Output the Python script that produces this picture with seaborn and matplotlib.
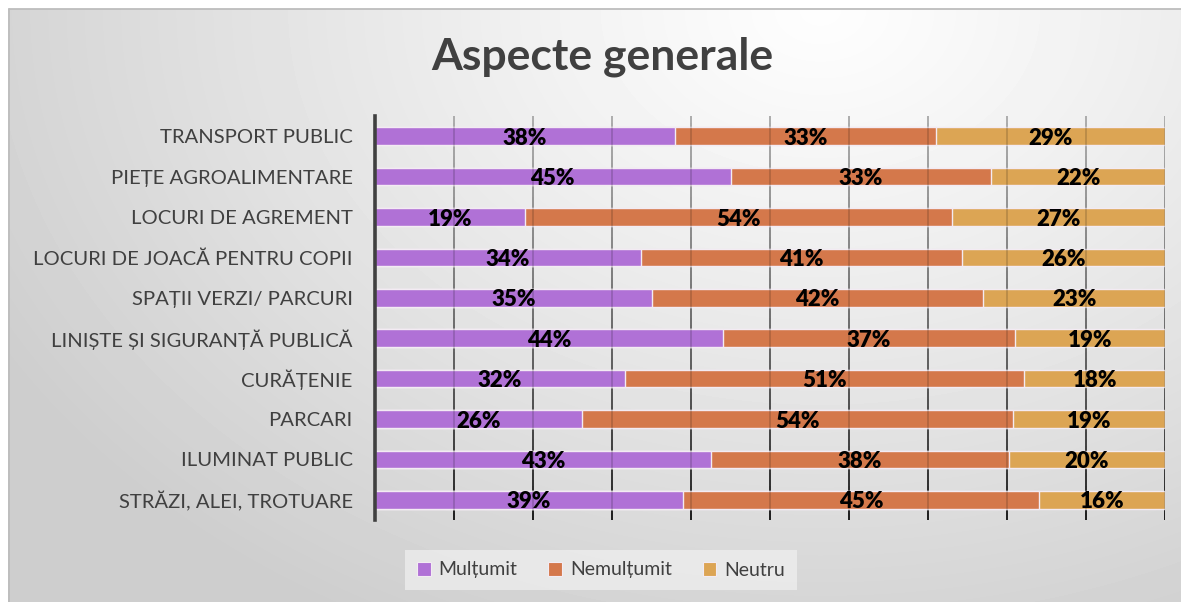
import numpy as np
import pandas as pd
import matplotlib
matplotlib.use("Agg")
import matplotlib.pyplot as plt
import seaborn as sns
from matplotlib.collections import LineCollection
from matplotlib.patches import Patch
from matplotlib.lines import Line2D
from matplotlib.colors import to_rgb

# ---- data -------------------------------------------------------------
categories = [
    "TRANSPORT PUBLIC",
    "PIEȚE AGROALIMENTARE",
    "LOCURI DE AGREMENT",
    "LOCURI DE JOACĂ PENTRU COPII",
    "SPAȚII VERZI/ PARCURI",
    "LINIȘTE ȘI SIGURANȚĂ PUBLICĂ",
    "CURĂȚENIE",
    "PARCARI",
    "ILUMINAT PUBLIC",
    "STRĂZI, ALEI, TROTUARE",
]
multumit = [38, 45, 19, 34, 35, 44, 32, 26, 43, 39]
nemultumit = [33, 33, 54, 41, 42, 37, 51, 54, 38, 45]
neutru = [29, 22, 27, 26, 23, 19, 18, 19, 20, 16]
series_names = ["Mulțumit", "Nemulțumit", "Neutru"]
title = "Aspecte generale"

colors = ["#b071d6", "#d4784b", "#dca554"]
text_gray = "#404040"

sns.set_theme(style="white")
plt.rcParams["font.family"] = ["Lato", "DejaVu Sans"]

df = pd.DataFrame({"cat": categories,
                   series_names[0]: multumit,
                   series_names[1]: nemultumit,
                   series_names[2]: neutru})
# 100% stacked: each row is normalised to its own total
shares = df[series_names].div(df[series_names].sum(axis=1), axis=0) * 100
cum = shares.cumsum(axis=1)

W, H = 1181, 602
fig = plt.figure(figsize=(W / 100, H / 100), dpi=100)

# ---- soft grey background with a thin frame ----------------------------
bg = fig.add_axes([0, 0, 1, 1], zorder=-10)
yy, xx = np.mgrid[0:H, 0:W]
d = np.hypot(xx - 820, (yy - 10) * 1.35)
val = 0.995 - 0.19 * np.clip(d / 950, 0, 1) ** 1.1
val[:, :8] = 1.0
val[:9, :] = 1.0
bg.imshow(val, cmap="gray", vmin=0, vmax=1, extent=[0, 1, 0, 1],
          aspect="auto", origin="upper", interpolation="bilinear")
bg.add_line(Line2D([8.5 / W, 8.5 / W], [0, 1 - 8.5 / H], color="#bdbdbd", lw=1.3))
bg.add_line(Line2D([8.5 / W, 1], [1 - 8.5 / H, 1 - 8.5 / H], color="#bdbdbd", lw=1.3))
bg.set_xlim(0, 1)
bg.set_ylim(0, 1)
bg.axis("off")

# ---- bars ---------------------------------------------------------------
ax = fig.add_axes([375 / W, 1 - 520 / H, 790 / W, 404 / H])
ax.set_facecolor("none")

# cumulative bars drawn from the longest to the shortest
for name, color in reversed(list(zip(series_names, colors))):
    sns.barplot(x=cum[name], y=df["cat"], color=color, orient="h",
                width=0.44, saturation=1, edgecolor="#f3ebf3", linewidth=1.0,
                ax=ax, zorder=3)

ax.set_xlim(0, 100)
ax.set_ylim(len(categories) - 0.5, -0.5)

# value labels centred in each segment
for name in series_names:
    centers = cum[name] - shares[name] / 2
    for i, (c, v) in enumerate(zip(centers, df[name])):
        ax.text(c, i + 0.05, f"{v}%", ha="center", va="center",
                fontsize=16, fontweight="heavy", color="black", zorder=5)

# vertical gridlines fading from light at the top to dark at the bottom
xaxis_tf = ax.get_xaxis_transform()
top_c = np.array(to_rgb("#cdcdcd"))
bot_c = np.array(to_rgb("#1e1e1e"))
n = 60
ys = np.linspace(0, 1, n + 1)
for gx in range(10, 101, 10):
    segs = [[(gx, ys[k]), (gx, ys[k + 1])] for k in range(n)]
    cols = [bot_c + (top_c - bot_c) * ((ys[k] + ys[k + 1]) / 2) ** 0.8 for k in range(n)]
    ax.add_collection(LineCollection(segs, colors=cols, linewidths=1.4,
                                     transform=xaxis_tf, zorder=1))
ax.vlines(range(10, 101, 10), 0, 1, transform=xaxis_tf, colors="black",
          alpha=0.18, linewidth=1.2, zorder=4)

for s in ["top", "right", "bottom"]:
    ax.spines[s].set_visible(False)
ax.spines["left"].set_color(text_gray)
ax.spines["left"].set_linewidth(2.6)
ax.spines["left"].set_zorder(6)
ax.tick_params(left=False, bottom=False, labelbottom=False, pad=10)
ax.set_xlabel("")
ax.set_ylabel("")
for lbl in ax.get_yticklabels():
    lbl.set_fontsize(14.6)
    lbl.set_color(text_gray)

# ---- title and legend ---------------------------------------------------
fig.text(602 / W, 1 - 57 / H, title, ha="center", va="center",
         fontsize=32, fontweight="bold", color=text_gray)

handles = [Patch(facecolor=c, edgecolor="#f3ebf3", linewidth=0.8) for c in colors]
leg = fig.legend(handles, series_names, loc="center",
                 bbox_to_anchor=(601 / W, 1 - 570 / H), ncol=3,
                 frameon=True, fancybox=False, facecolor="#efefef",
                 edgecolor="none", framealpha=0.75, fontsize=14,
                 handlelength=0.7, handleheight=0.7, handletextpad=0.4,
                 columnspacing=1.6, borderpad=0.6, labelcolor=text_gray)

fig.savefig("out.png", dpi=100)
